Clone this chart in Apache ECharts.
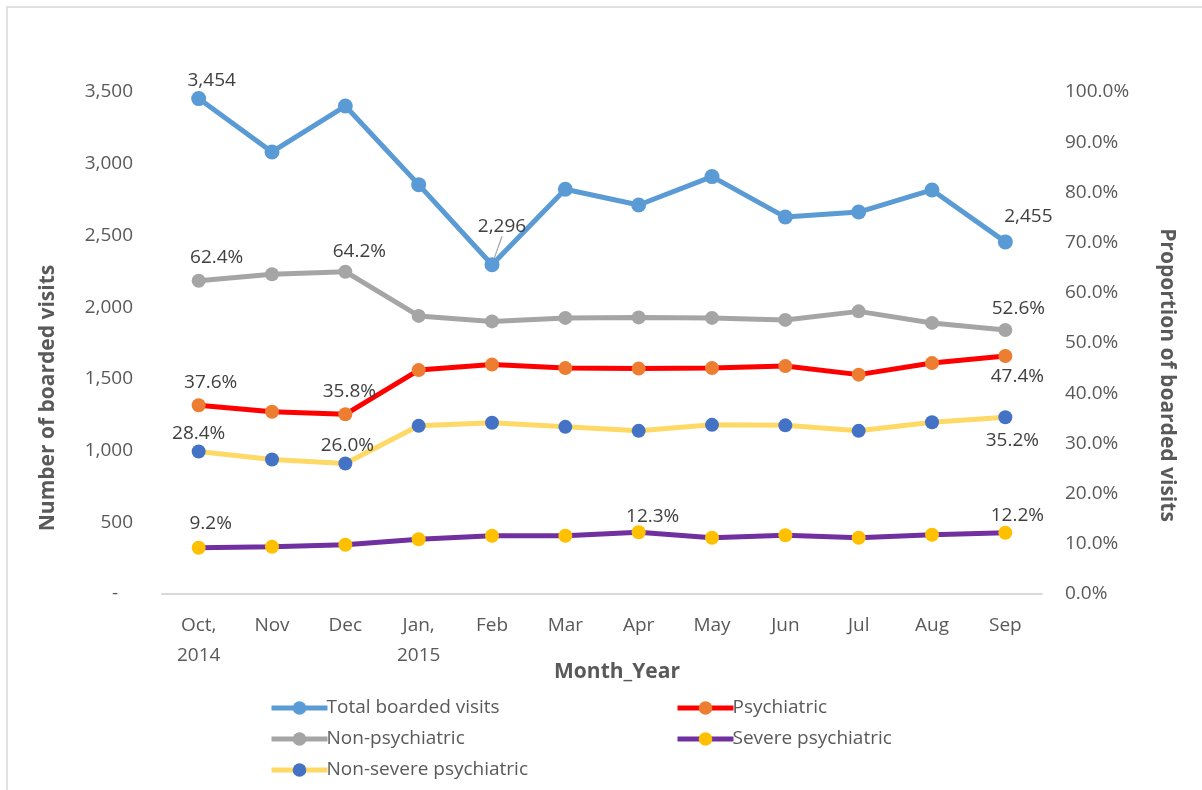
<!DOCTYPE html>
<html>
<head>
<meta charset="utf-8">
<title>Boarded visits</title>
<script src="https://cdn.jsdelivr.net/npm/echarts@6/dist/echarts.min.js"></script>
<style>
    html, body { margin: 0; padding: 0; background: #fff; }
    #chart { width: 1202px; height: 790px; }
</style>
</head>
<body>
<div id="chart"></div>
<script>
// categories (month_year)
var months = ["Oct,\n2014", "Nov", "Dec", "Jan,\n2015", "Feb", "Mar", "Apr", "May", "Jun", "Jul", "Aug", "Sep"];

// left axis: number of boarded visits
var totalVisits = [3454, 3082, 3402, 2854, 2296, 2822, 2712, 2910, 2628, 2663, 2817, 2455];

// right axis: proportion of boarded visits (%)
var psychiatric = [37.6, 36.3, 35.8, 44.6, 45.7, 45.0, 44.9, 45.0, 45.4, 43.7, 46.0, 47.4];
var nonPsychiatric = [62.4, 63.7, 64.2, 55.4, 54.3, 55.0, 55.1, 55.0, 54.6, 56.3, 54.0, 52.6];
var severePsych = [9.2, 9.4, 9.8, 10.9, 11.6, 11.6, 12.3, 11.2, 11.7, 11.2, 11.8, 12.2];
var nonSeverePsych = [28.4, 26.8, 26.0, 33.5, 34.1, 33.3, 32.5, 33.7, 33.6, 32.5, 34.2, 35.2];

// tick labels
var leftTicks = [0, 500, 1000, 1500, 2000, 2500, 3000, 3500];
var rightTicks = [0, 10, 20, 30, 40, 50, 60, 70, 80, 90, 100];

// which points carry a data label, and where it sits (offset from the point)
var labelPlaces = {
    total: { 0: [13, -18], 4: [10, -38], 11: [23, -25] },
    nonPsych: { 0: [18, -23], 2: [14, -20], 11: [13, -21] },
    psych: { 0: [12, -23], 2: [4, -23], 11: [12, 21] },
    nonSevere: { 0: [0, -18], 2: [2, -18], 11: [7, 23] },
    severe: { 0: [12, -24], 6: [14, -16], 11: [12, -17] }
};

var FONT = "'Open Sans', 'Noto Sans', sans-serif";

function fmtCount(v) {
    return v.toString().replace(/\B(?=(\d{3})+(?!\d))/g, ",");
}

function buildData(values, places, fmt) {
    return values.map(function (v, i) {
        var item = { value: v };
        if (places[i]) {
            item.label = {
                show: true,
                position: "inside",
                offset: places[i],
                formatter: fmt(v)
            };
        }
        return item;
    });
}

var pctFmt = function (v) { return v.toFixed(1) + "%"; };

var labelStyle = {
    show: false,
    color: "#404040",
    fontSize: 19,
    fontFamily: FONT
};

function lineSeries(name, yIdx, data, lineColor, dotColor, size) {
    return {
        name: name,
        type: "line",
        yAxisIndex: yIdx,
        data: data,
        symbol: "circle",
        symbolSize: size,
        lineStyle: { color: lineColor, width: 5 },
        itemStyle: { color: dotColor },
        label: labelStyle,
        z: 3
    };
}

// total series: labels are moved with labelLayout, Feb keeps a small leader line
var totalData = totalVisits.map(function (v, i) {
    var item = { value: v };
    if (labelPlaces.total[i]) {
        item.label = { show: true, position: "inside", formatter: fmtCount(v) };
        item.labelLine = { show: i === 4 };
    }
    return item;
});
var totalSeries = lineSeries("Total boarded visits", 0, totalData, "#5B9BD5", "#5B9BD5", 15);
totalSeries.labelLayout = function (p) {
    var off = labelPlaces.total[p.dataIndex];
    if (off) {
        return { dx: off[0], dy: off[1] };
    }
};
totalSeries.labelLine = { show: false, lineStyle: { color: "#a6a6a6", width: 1.2 } };

var chart = echarts.init(document.getElementById("chart"), null, { renderer: "canvas" });

var legendBase = {
    orient: "vertical",
    top: 693,
    itemWidth: 56,
    itemHeight: 17,
    itemGap: 11,
    lineStyle: { width: 5 },
    textStyle: { color: "#595959", fontSize: 19, fontFamily: FONT, lineHeight: 20, padding: [0, 0, 0, -6] }
};

var option = {
    backgroundColor: "#fff",
    animation: false,
    grid: {
        left: 162,
        right: 160,
        top: 92,
        bottom: 196,
        outerBoundsMode: "none"
    },
    legend: [
        Object.assign({}, legendBase, {
            data: ["Total boarded visits", "Non-psychiatric", "Non-severe psychiatric"],
            left: 264
        }),
        Object.assign({}, legendBase, {
            data: ["Psychiatric", "Severe psychiatric"],
            left: 670
        })
    ],
    xAxis: {
        type: "category",
        data: months,
        boundaryGap: true,
        axisLine: { show: true, lineStyle: { color: "#d9d9d9", width: 2 } },
        axisTick: { show: false },
        axisLabel: {
            color: "#595959",
            fontSize: 19,
            fontFamily: FONT,
            lineHeight: 30,
            margin: 17,
            interval: 0
        }
    },
    yAxis: [
        {
            type: "value",
            min: leftTicks[0],
            max: leftTicks[leftTicks.length - 1],
            interval: leftTicks[1] - leftTicks[0],
            splitLine: { show: false },
            axisLine: { show: false },
            axisTick: { show: false },
            axisLabel: {
                color: "#595959",
                fontSize: 19,
                fontFamily: FONT,
                margin: 29,
                formatter: function (v) {
                    return v === 0 ? "-   " : fmtCount(v);
                }
            }
        },
        {
            type: "value",
            position: "right",
            min: rightTicks[0],
            max: rightTicks[rightTicks.length - 1],
            interval: rightTicks[1] - rightTicks[0],
            splitLine: { show: false },
            axisLine: { show: false },
            axisTick: { show: false },
            axisLabel: {
                color: "#595959",
                fontSize: 19,
                fontFamily: FONT,
                margin: 23,
                formatter: function (v) {
                    return v.toFixed(1) + "%";
                }
            }
        }
    ],
    graphic: [
        {
            type: "rect",
            shape: { x: 7, y: 7, width: 1300, height: 900 },
            style: { fill: "none", stroke: "#d9d9d9", lineWidth: 1.5 },
            silent: true
        },
        {
            type: "text",
            x: 48,
            y: 398,
            rotation: Math.PI / 2,
            style: {
                text: "Number of boarded visits",
                fill: "#595959",
                font: "bold 21px " + FONT,
                textAlign: "center",
                textVerticalAlign: "middle"
            }
        },
        {
            type: "text",
            x: 1167,
            y: 375,
            rotation: -Math.PI / 2,
            style: {
                text: "Proportion of boarded visits",
                fill: "#595959",
                font: "bold 21px " + FONT,
                textAlign: "center",
                textVerticalAlign: "middle"
            }
        },
        {
            type: "text",
            x: 617,
            y: 672,
            style: {
                text: "Month_Year",
                fill: "#595959",
                font: "bold 21px " + FONT,
                textAlign: "center",
                textVerticalAlign: "middle"
            }
        }
    ],
    series: [
        totalSeries,
        lineSeries("Psychiatric", 1, buildData(psychiatric, labelPlaces.psych, pctFmt), "#FF0000", "#ED7D31", 14),
        lineSeries("Non-psychiatric", 1, buildData(nonPsychiatric, labelPlaces.nonPsych, pctFmt), "#A5A5A5", "#A5A5A5", 14),
        lineSeries("Severe psychiatric", 1, buildData(severePsych, labelPlaces.severe, pctFmt), "#7030A0", "#FFC000", 14),
        lineSeries("Non-severe psychiatric", 1, buildData(nonSeverePsych, labelPlaces.nonSevere, pctFmt), "#FFD966", "#4472C4", 14)
    ]
};

chart.setOption(option);
</script>
</body>
</html>
